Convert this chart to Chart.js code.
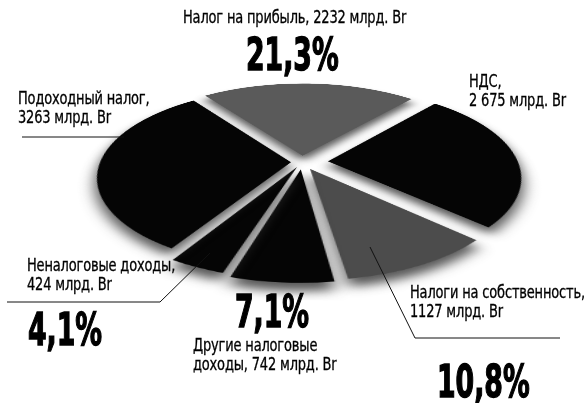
<!DOCTYPE html>
<html>
<head>
<meta charset="utf-8">
<script src="https://cdn.jsdelivr.net/npm/chart.js@4"></script>
<style>
    html, body { margin: 0; padding: 0; background: #fff; }
    body { width: 586px; height: 403px; position: relative; overflow: hidden; }
    #pieWrap {
        position: absolute; left: 62px; top: -78px; width: 480px; height: 480px;
        transform: perspective(1000px) rotateX(63deg);
    }
    .lbl {
        position: absolute; white-space: nowrap; color: #000;
        font-family: "DejaVu Sans Condensed", "Liberation Sans Narrow", sans-serif;
        font-size: 17px; line-height: 19px; letter-spacing: -0.2px;
        -webkit-text-stroke: 0.3px #000;
        transform-origin: left top; transform: scaleX(0.85);
    }
    .pct {
        position: absolute; white-space: nowrap; color: #000;
        font-family: "DejaVu Sans Condensed", "Liberation Sans Narrow", sans-serif;
        font-weight: bold; font-size: 45px; line-height: 44px;
        -webkit-text-stroke: 1.4px #000;
        transform-origin: left top; transform: scaleX(0.66);
    }
    svg { position: absolute; left: 0; top: 0; }
</style>
</head>
<body>
<div id="pieWrap"><canvas class="taxChart" width="480" height="480"></canvas></div>
<svg width="586" height="403" id="leaders"></svg>
<div id="labels"></div>

<script>
// slices go clockwise, starting with the top one
const categories = ['Налог на прибыль', 'НДС', 'Налоги на собственность', 'Другие налоговые доходы', 'Неналоговые доходы', 'Подоходный налог'];
const values = [2232, 2675, 1127, 742, 424, 3263];
const valueTexts = ['2232', '2 675', '1127', '742', '424', '3263'];
const showPercent = [true, false, true, true, true, false];
const unit = 'млрд. Br';

const sliceColors = ['#5a5a5a', '#050505', '#4c4c4c', '#050505', '#050505', '#050505'];
// chart.js moves a slice by offset / 4
const sliceOffsets = [56, 104, 68, 64, 48, 44];

function $(sel) { return document.querySelector(sel); }

function pieChart() {
    const ctx = $('.taxChart').getContext('2d');

    // grey fuzzy shadow under the slices, like the print
    const shadowPlugin = {
        id: 'shadow',
        beforeDatasetsDraw(chart) {
            const c = chart.ctx;
            c.save();
            c.shadowColor = 'rgba(60,60,60,0.85)';
            c.shadowBlur = 14;
            c.shadowOffsetY = 12;
        },
        afterDatasetsDraw(chart) {
            chart.ctx.restore();
        }
    };

    return new Chart(ctx, {
        type: 'pie',
        data: {
            labels: categories,
            datasets: [{
                data: values,
                backgroundColor: sliceColors,
                borderWidth: 0,
                offset: sliceOffsets
            }]
        },
        options: {
            responsive: false,
            animation: false,
            radius: 190,
            rotation: -36,
            layout: { padding: 0 },
            plugins: {
                legend: { display: false },
                tooltip: { enabled: false }
            }
        },
        plugins: [shadowPlugin]
    });
}

pieChart();

// labels and leader lines
const total = values.reduce((a, b) => a + b, 0);
const pctText = values.map(v => (v / total * 100).toFixed(1).replace('.', ',') + '%');

const textPos = [
    { x: 183, y: 8, one: true },
    { x: 469, y: 72 },
    { x: 410, y: 283 },
    { x: 193, y: 336, wrap: 'Другие налоговые<br>доходы, ' },
    { x: 27, y: 256 },
    { x: 18, y: 89 }
];
const pctPos = [
    { x: 246, y: 33 },
    null,
    { x: 437, y: 360 },
    { x: 235, y: 290 },
    { x: 28, y: 308 },
    null
];

let html = '';
categories.forEach(function(name, i) {
    const p = textPos[i];
    let txt;
    if (p.one) {
        txt = name + ', ' + valueTexts[i] + ' ' + unit;
    } else if (p.wrap) {
        txt = p.wrap + valueTexts[i] + ' ' + unit;
    } else {
        txt = name + ',<br>' + valueTexts[i] + ' ' + unit;
    }
    html += '<div class="lbl" style="left:' + p.x + 'px;top:' + p.y + 'px">' + txt + '</div>';
    if (showPercent[i]) {
        const q = pctPos[i];
        html += '<div class="pct" style="left:' + q.x + 'px;top:' + q.y + 'px">' + pctText[i] + '</div>';
    }
});
$('#labels').innerHTML = html;

const leaders = [
    [[22, 137], [124, 137]],
    [[7, 302], [160, 302], [210, 253]],
    [[560, 338], [415, 338], [370, 247]]
];
$('#leaders').innerHTML = leaders.map(pts =>
    '<polyline fill="none" stroke="#111" stroke-width="1" points="' + pts.map(p => p.join(',')).join(' ') + '"/>'
).join('');
</script>
</body>
</html>
